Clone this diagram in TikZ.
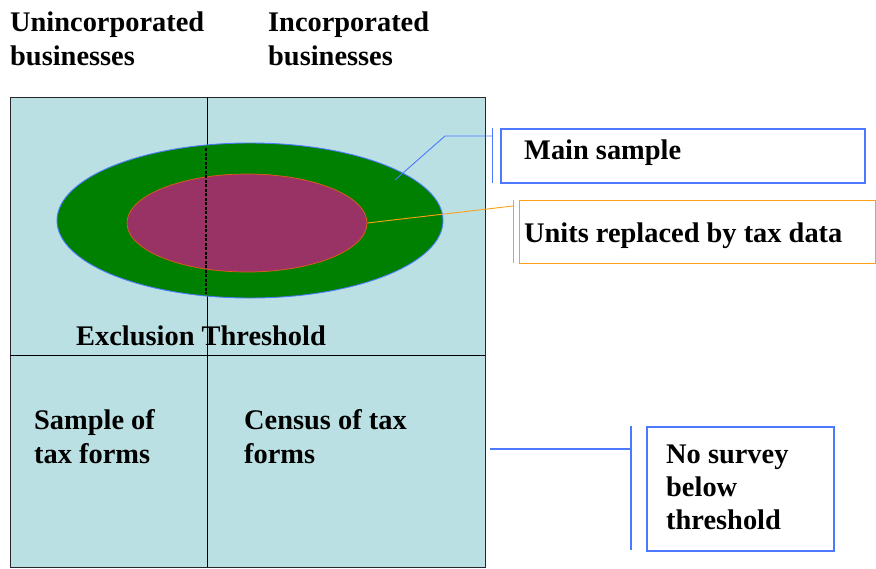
\documentclass[tikz,border=0pt]{standalone}
\usepackage{fontspec}
\setmainfont{Liberation Serif}
\usetikzlibrary{shapes.geometric}
\definecolor{bgblue}{RGB}{187,224,227}
\definecolor{ringgreen}{RGB}{0,128,0}
\definecolor{innermaroon}{RGB}{153,51,102}
\definecolor{leadblue}{RGB}{77,121,255}
\definecolor{leadorange}{RGB}{255,160,20}
\definecolor{innerborder}{RGB}{230,90,20}
\tikzset{
  lbl/.style={font=\fontsize{28.4}{34}\selectfont\bfseries, inner sep=0pt, anchor=base west, align=left},
  bluebox/.style={draw=leadblue, line width=1.6pt, inner sep=0pt, anchor=north west},
  orangebox/.style={draw=leadorange, line width=0.9pt, inner sep=0pt, anchor=north west},
  bluelead/.style={draw=leadblue, line width=0.9pt},
  orangelead/.style={draw=leadorange, line width=0.9pt}
}
\begin{document}
\begin{tikzpicture}[x=1pt,y=-1pt]
\useasboundingbox (0,0) rectangle (876,568);
% frame
\node[draw=black!85, fill=bgblue, line width=0.9pt, minimum width=475pt, minimum height=470pt, inner sep=0pt, anchor=north west] (frame) at (10,97) {};
\draw[line width=0.8pt] (207,97) coordinate (vtop) -- (207,567) coordinate (vbot);
\draw[line width=0.8pt] (10,355) coordinate (hl) -- (485,355) coordinate (hr);
% ellipses
\node[ellipse, draw=leadblue, fill=ringgreen, line width=0.9pt, minimum width=386pt, minimum height=155pt, inner sep=0pt] (outer) at (250,220.5) {};
\node[ellipse, draw=innerborder, fill=innermaroon, line width=0.7pt, minimum width=240pt, minimum height=98pt, inner sep=0pt] (inner) at (247,223) {};
\draw[line width=1.6pt, dash pattern=on 3pt off 1.5pt] (206,148) coordinate (dtop) -- (206,294) coordinate (dbot);
% headers (anchor = baseline of last line)
\node[lbl] (uninc) at (10,65) {Unincorporated\\businesses};
\node[lbl] (inc) at (268,65) {Incorporated\\businesses};
\node[lbl] (excl) at (76,345) {Exclusion Threshold};
\node[lbl] (sample) at (34,463) {Sample of\\tax forms};
\node[lbl] (census) at (244,463) {Census of tax\\forms};
% main sample
\node[bluebox, minimum width=364pt, minimum height=54pt] (mainbox) at (500,128) {};
\node[lbl] (maintext) at (524,159) {Main sample};
\coordinate (mbar1) at (492,128);
\coordinate (mbar2) at (492,183);
\draw[leadblue, line width=1pt] (mbar1) -- (mbar2);
\coordinate (mstart) at (395,180);
\draw[bluelead] (mstart) -- (445,136) -- (492,136);
% units replaced
\node[orangebox, minimum width=356pt, minimum height=63pt] (unitbox) at (519,200) {};
\node[lbl] (unittext) at (524,242) {Units replaced by tax data};
\coordinate (ubar1) at (513,200);
\coordinate (ubar2) at (513,263);
\draw[leadorange, line width=0.9pt] (ubar1) -- (ubar2);
\draw[orangelead] (inner.east) -- (513,206);
% no survey
\node[bluebox, minimum width=187pt, minimum height=124pt] (nobox) at (646,426) {};
\node[lbl, font=\fontsize{28.4}{33}\selectfont\bfseries] (notext) at (666,529) {No survey\\below\\threshold};
\coordinate (nbar1) at (631,426);
\coordinate (nbar2) at (631,550);
\draw[leadblue, line width=1.4pt] (nbar1) -- (nbar2);
\draw[leadblue, line width=1.2pt] (490,449) -- (631,449);
\end{tikzpicture}
\end{document}
